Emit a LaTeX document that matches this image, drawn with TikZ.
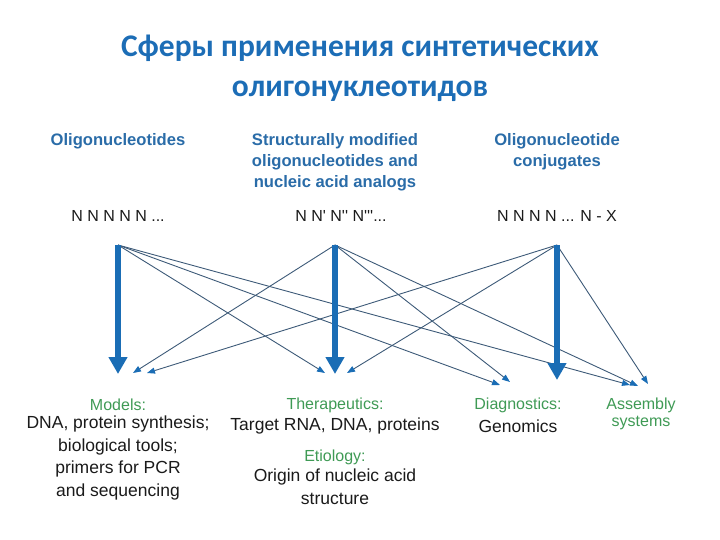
\documentclass[tikz,border=0pt]{standalone}
\usepackage{fontspec}
\setmainfont{Liberation Sans}
\newfontfamily\titlefont{Carlito}
\usetikzlibrary{arrows.meta}
\definecolor{titleblue}{HTML}{1C6DB6}
\definecolor{headblue}{HTML}{2A6CA8}
\definecolor{arrblue}{HTML}{1A6DB5}
\definecolor{linegray}{HTML}{3D5A78}
\definecolor{labgreen}{HTML}{3F9A55}
\definecolor{txtdark}{HTML}{1A1A1A}
\tikzset{
  titletext/.style={font=\titlefont\bfseries\fontsize{31.5}{40}\selectfont, text=titleblue, align=center, inner sep=0pt},
  headtext/.style={font=\bfseries\fontsize{16.6}{21}\selectfont, text=headblue, align=center, inner sep=0pt},
  seqtext/.style={font=\fontsize{16}{20}\selectfont, text=txtdark, inner sep=0pt},
  greentext/.style={font=\fontsize{16}{20}\selectfont, text=labgreen, align=center, inner sep=0pt},
  blacktext/.style={font=\fontsize{17.5}{22.5}\selectfont, text=txtdark, align=center, inner sep=0pt},
  thick arrow/.style={draw=arrblue, line width=5.5pt, -{Triangle[length=17pt,width=18pt]}},
  thin arrow/.style={draw=linegray, line width=0.9pt, -{Triangle[length=8pt,width=6pt,color=arrblue]}, shorten >=0pt}
}
\begin{document}
\begin{tikzpicture}[x=1pt,y=-1pt]
\useasboundingbox (0,0) rectangle (720,540);
% title
\node[titletext] (title) at (360,68.5) {Сферы применения синтетических\\олигонуклеотидов};
% headers
\node[headtext, anchor=north] (h1) at (118,133) {Oligonucleotides};
\node[headtext, anchor=north] (h2) at (335,133) {Structurally modified\\oligonucleotides and\\nucleic acid analogs};
\node[headtext, anchor=north] (h3) at (557,133) {Oligonucleotide\\conjugates};
% sequences
\node[seqtext] (q1) at (118,216) {N N N N N ...};
\node[seqtext] (q2) at (341,216) {N N\textquotesingle\ N\textquotesingle\textquotesingle\ N\textquotesingle\textquotesingle\textquotesingle...};
\node[seqtext] (q3) at (557,216) {N N N N ... N - X};
% sources
\coordinate (s1) at (118,245);
\coordinate (s2) at (335,245);
\coordinate (s3) at (557,245);
% targets
\coordinate (m0) at (118,374);
\coordinate (m1) at (133,373);
\coordinate (m2) at (147,373);
\coordinate (t0) at (325,373);
\coordinate (t1) at (335,374);
\coordinate (t2) at (347,373);
\coordinate (d0) at (500,385);
\coordinate (d1) at (510,382);
\coordinate (x3) at (557,380);
\coordinate (a0) at (630,385);
\coordinate (a1) at (638,386);
\coordinate (a2) at (648,384);
% thin arrows
\draw[thin arrow] (s1) -- (t0);
\draw[thin arrow] (s1) -- (d0);
\draw[thin arrow] (s1) -- (a0);
\draw[thin arrow] (s2) -- (m1);
\draw[thin arrow] (s2) -- (d1);
\draw[thin arrow] (s2) -- (a1);
\draw[thin arrow] (s3) -- (m2);
\draw[thin arrow] (s3) -- (t2);
\draw[thin arrow] (s3) -- (a2);
% thick arrows
\draw[thick arrow] (s1) -- (m0);
\draw[thick arrow] (s2) -- (t1);
\draw[thick arrow] (s3) -- (x3);
% bottom labels
\node[greentext] (g1) at (118,405) {Models:};
\node[blacktext, anchor=north] (b1) at (118,416) {DNA, protein synthesis;\\biological tools;\\primers for PCR\\and sequencing};
\node[greentext] (g2) at (335,405) {Therapeutics:};
\node[blacktext] (b2) at (335,426) {Target RNA, DNA, proteins};
\node[greentext] (g3) at (335,457) {Etiology:};
\node[blacktext, anchor=north] (b3) at (335,469) {Origin of nucleic acid\\structure};
\node[greentext] (g4) at (518,405) {Diagnostics:};
\node[blacktext] (b4) at (518,426) {Genomics};
\node[greentext, font=\fontsize{16}{17}\selectfont, anchor=north] (g5) at (641,398) {Assembly\\systems};
\end{tikzpicture}
\end{document}
